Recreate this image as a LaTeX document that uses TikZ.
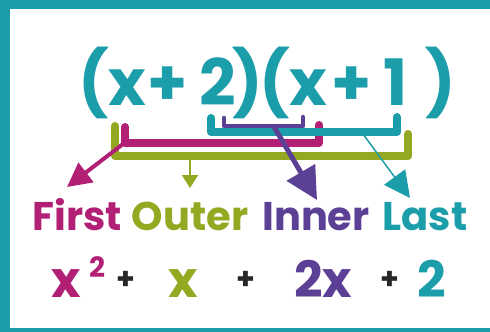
\documentclass[tikz,border=0pt]{standalone}
\usepackage{fontspec}
\setmainfont{Poppins}
\usetikzlibrary{arrows.meta}
\definecolor{tealc}{RGB}{28,158,170}
\definecolor{magc}{RGB}{178,32,118}
\definecolor{olvc}{RGB}{148,168,34}
\definecolor{purc}{RGB}{92,64,150}
\definecolor{pluc}{RGB}{40,40,40}
\tikzset{
  big/.style={font=\fontsize{64}{64}\selectfont\bfseries, text=tealc, inner sep=0pt, anchor=base},
  lbl/.style={font=\fontsize{40}{40}\selectfont\bfseries, inner sep=0pt, anchor=base},
  res/.style={font=\fontsize{50}{50}\selectfont\bfseries, inner sep=0pt, anchor=base},
  plus/.style={font=\fontsize{30}{30}\selectfont\bfseries, text=pluc, inner sep=0pt, anchor=base},
  brk/.style={line cap=round, line join=round},
}
\begin{document}
\begin{tikzpicture}[x=1pt,y=-1pt]
\useasboundingbox (0,0) rectangle (490,332);
\fill[tealc] (0,0) rectangle (490,332);
\fill[white] (10,9) rectangle (490,328);

% big formula
\node[big] (p1) at (94,105) {(};
\node[big] (x1) at (127,105) {x};
\node[big] (s1) at (168,105) {+};
\node[big] (n2) at (218,105) {2};
\node[big] (p2) at (248,105) {)};
\node[big] (p3) at (275,105) {(};
\node[big] (x2) at (308,105) {x};
\node[big] (s2) at (352,105) {+};
\node[big] (n1) at (396,105) {1};
\node[big] (p4) at (441,105) {)};

% brackets
\coordinate (oA) at (115,126); \coordinate (oB) at (115,156);
\coordinate (oC) at (408,156); \coordinate (oD) at (408,134);
\draw[olvc, line width=8, brk] (oA) -- (oB) -- (oC) -- (oD);
\coordinate (mA) at (125,127); \coordinate (mB) at (125,143);
\coordinate (mC) at (319,143); \coordinate (mD) at (319,125);
\draw[magc, line width=8, brk] (mA) -- (mB) -- (mC) -- (mD);
\coordinate (tA) at (211,118); \coordinate (tB) at (211,132);
\coordinate (tC) at (397,132); \coordinate (tD) at (397,117);
\draw[tealc, line width=8, brk] (tA) -- (tB) -- (tC) -- (tD);
\coordinate (uA) at (224,118); \coordinate (uB) at (224,126);
\coordinate (uC) at (303,126); \coordinate (uD) at (303,117);
\draw[purc, line width=4.5, brk] (uA) -- (uB) -- (uC) -- (uD);

% labels
\node[lbl, text=magc] (first) at (77,230) {First};
\node[lbl, text=olvc] (outer) at (190,230) {Outer};
\node[lbl, text=purc] (inner) at (316,230) {Inner};
\node[lbl, text=tealc] (last) at (425,230) {Last};

% arrows
\coordinate (mS) at (123,144); \coordinate (mE) at (67,187);
\draw[magc, line width=4, -{Triangle[length=24,width=24]}] (mS) -- (mE);
\coordinate (oS) at (190,158); \coordinate (oE) at (190,188);
\draw[olvc, line width=2, -{Triangle[length=13,width=16]}] (oS) -- (oE);
\coordinate (uS) at (273,125); \coordinate (uE) at (317,200);
\draw[purc, line width=5, -{Triangle[length=32,width=32]}] (uS) -- (uE);
\coordinate (tS) at (363,134); \coordinate (tE) at (410,198);
\draw[tealc, line width=1.5, -{Triangle[length=26,width=26]}] (tS) -- (tE);

% result row
\node[res, text=magc] (rx) at (66,297) {x};
\node[font=\fontsize{28}{28}\selectfont\bfseries, text=magc, inner sep=0pt, anchor=base] (rsq) at (97,277) {2};
\node[plus] (q1) at (126,289) {+};
\node[res, text=olvc] (rox) at (183,297) {x};
\node[plus] (q2) at (246,289) {+};
\node[res, text=purc] (r2x) at (323,297) {2x};
\node[plus] (q3) at (390,289) {+};
\node[res, text=tealc] (r2) at (432,297) {2};
\end{tikzpicture}
\end{document}
